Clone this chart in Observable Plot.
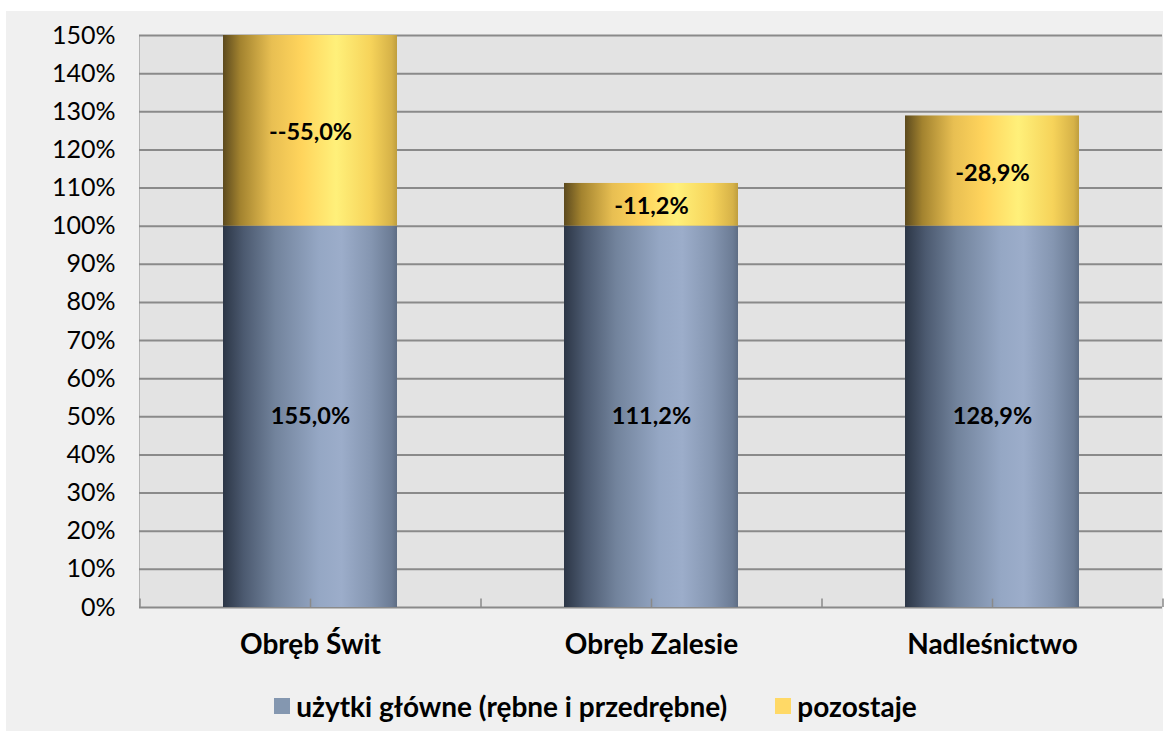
<!DOCTYPE html>
<html>
<head>
<meta charset="utf-8">
<script src="https://cdn.jsdelivr.net/npm/d3@7"></script>
<script src="https://cdn.jsdelivr.net/npm/@observablehq/plot@0.6"></script>
<style>
  html, body { margin: 0; padding: 0; background: #ffffff; }
  #frame { position: absolute; left: 6px; top: 11px; width: 1157px; height: 720px; background: #f0f0f0; }
  #legend { display: flex; justify-content: center; align-items: center; margin-top: 10px; height: 30px; padding-left: 22px;
            font-family: Lato, sans-serif; font-weight: bold; font-size: 28px; color: #000; }
  .sw { display: inline-block; width: 16px; height: 16px; margin-right: 6px; }
  .item { display: flex; align-items: center; margin: 0 24px; }
</style>
</head>
<body>
<div id="frame">
  <div id="chart"></div>
  <div id="legend"></div>
</div>
<script>
// ---- data ----
const categories = ["Obręb Świt", "Obręb Zalesie", "Nadleśnictwo"];
const mainValues = [1.00, 1.00, 1.00];          // użytki główne (rębne i przedrębne)
const restValues = [0.55, 0.112, 0.289];        // pozostaje
const mainLabels = ["155,0%", "111,2%", "128,9%"];
const restLabels = ["--55,0%", "-11,2%", "-28,9%"];
const seriesNames = ["użytki główne (rębne i przedrębne)", "pozostaje"];
const yTicks = [0, 0.1, 0.2, 0.3, 0.4, 0.5, 0.6, 0.7, 0.8, 0.9, 1.0, 1.1, 1.2, 1.3, 1.4, 1.5];
const yMax = 1.5;

const rows = categories.map((c, i) => ({
  cat: c,
  main: mainValues[i],
  top: mainValues[i] + restValues[i],
  mainLabel: mainLabels[i],
  restLabel: restLabels[i]
}));

const W = 1157, H = 670, mL = 133, mR = 1, mT = 24, mB = 74;
const step = (W - mL - mR) / categories.length;

const chart = Plot.plot({
  width: W, height: H,
  marginLeft: mL, marginRight: mR, marginTop: mT, marginBottom: mB,
  style: { fontFamily: "Lato, sans-serif", fontSize: "24px", color: "#000", background: "transparent", overflow: "visible" },
  x: { domain: categories, paddingInner: 0.49, paddingOuter: 0.245, axis: null },
  y: { domain: [0, yMax], axis: null },
  marks: [
    Plot.frame({ fill: "#e3e3e3", stroke: null }),
    Plot.frame({ anchor: "left", stroke: "#b4b4b4", strokeWidth: 1 }),
    Plot.ruleY(yTicks, { stroke: "#8a8a8a", strokeWidth: 2 }),
    Plot.barY(rows, { x: "cat", y1: 0, y2: "main", fill: "url(#gBlue)" }),
    Plot.barY(rows, { x: "cat", y1: "main", y2: d => Math.min(d.top, yMax), fill: "url(#gYellow)" }),
    // bottom axis ticks (centres and category boundaries), pointing up
    Plot.ruleX(rows, { x: "cat", y1: 0, y2: 0.022, stroke: "#8a8a8a", strokeWidth: 1.5 }),
    Plot.ruleX(rows, { x: "cat", y1: 0, y2: 0.022, dx: -step / 2, stroke: "#8a8a8a", strokeWidth: 1.5 }),
    Plot.ruleX(rows.slice(-1), { x: "cat", y1: 0, y2: 0.022, dx: step / 2, stroke: "#8a8a8a", strokeWidth: 1.5 }),
    Plot.text(rows, { x: "cat", y: d => d.main / 2, text: "mainLabel", fontWeight: "bold", fontSize: 23.5, fill: "#000" }),
    Plot.text(rows, { x: "cat", y: d => (d.main + Math.min(d.top, yMax)) / 2, dy: 2, text: "restLabel", fontWeight: "bold", fontSize: 23.5, fill: "#000" }),
    Plot.axisY(yTicks, { tickFormat: d3.format(".0%"), tickSize: 0, tickPadding: 24, fontSize: 25, fill: "#000", label: null }),
    Plot.axisX({ tickSize: 0, tickPadding: 27, fontSize: 28, fontWeight: "bold", fill: "#000", label: null })
  ]
});

// gradients for the cylinder-like shading
const defs = d3.select(chart).insert("defs", ":first-child");
function grad(id, stops) {
  const g = defs.append("linearGradient").attr("id", id).attr("x1", 0).attr("x2", 1).attr("y1", 0).attr("y2", 0);
  stops.forEach(([o, c]) => g.append("stop").attr("offset", o).attr("stop-color", c));
}
grad("gBlue", [[0, "#2c3646"], [0.12, "#4c5a70"], [0.3, "#72839c"], [0.55, "#95a7c4"], [0.68, "#9cadca"], [0.85, "#8596b1"], [0.97, "#6c7c95"], [1, "#5e6d84"]]);
grad("gYellow", [[0, "#5c4a1e"], [0.1, "#a3832f"], [0.28, "#e8bf52"], [0.45, "#ffd45c"], [0.65, "#fff07a"], [0.85, "#f6d35a"], [0.97, "#d6b248"], [1, "#bf9e3e"]]);

document.getElementById("chart").appendChild(chart);

const legendColors = ["#8497b0", "#ffd966"];
const legend = document.getElementById("legend");
seriesNames.forEach((name, i) => {
  const item = document.createElement("span");
  item.className = "item";
  const sw = document.createElement("span");
  sw.className = "sw";
  sw.style.background = legendColors[i];
  item.appendChild(sw);
  item.appendChild(document.createTextNode(name));
  legend.appendChild(item);
});
</script>
</body>
</html>
